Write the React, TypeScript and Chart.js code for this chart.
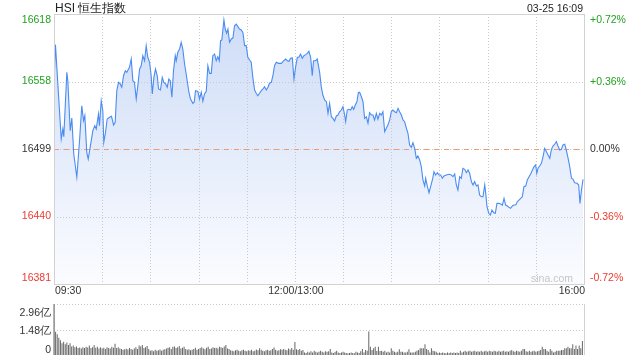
import React, { useEffect, useRef } from 'react';
import { Chart, registerables } from 'chart.js';

Chart.register(...registerables);

const FONT = '"Liberation Sans", Arial, Helvetica, sans-serif';

const titleText = 'HSI 恒生指数';
const stampText = '03-25 16:09';
const watermarkText = 'sina.com';

const prevClose = 16499.5;
const priceMin = 16381;
const priceMax = 16618;
const priceTickValues = [16618, 16558.75, 16499.5, 16440.25, 16381];
const priceTickLabels = ['16618', '16558', '16499', '16440', '16381'];
const pctTickLabels = ['+0.72%', '+0.36%', '0.00%', '-0.36%', '-0.72%'];
const tickColors = ['#22a122', '#22a122', '#333333', '#ec3a2e', '#ec3a2e'];

const totalMinutes = 330;
const timeGridMinutes = [0, 30, 60, 90, 120, 150, 180, 210, 240, 270, 300, 330];
const timeLabelMinutes = [0, 150, 330];
const timeLabelTexts = ['09:30', '12:00/13:00', '16:00'];

const volMax = 2.96;
const volTickValues = [2.96, 1.48, 0];
const volTickLabels = ['2.96亿', '1.48亿', '0'];

// minutes since 09:30 (trading minutes, lunch removed)
const minutes = [
  0.0, 0.9, 4.5, 5.5, 6.1, 8.0, 8.6, 10.1, 11.1, 12.3,
  14.2, 15.9, 17.3, 18.4, 19.2, 20.4, 21.3, 22.5, 24.2, 25.4,
  26.3, 27.7, 28.3, 29.4, 30.4, 31.0, 32.1, 33.1, 34.6, 35.8,
  37.1, 38.1, 39.1, 40.2, 41.2, 42.2, 43.3, 44.4, 45.3, 47.0,
  48.1, 49.1, 50.1, 51.2, 52.2, 53.3, 54.3, 55.3, 56.4, 57.4,
  58.4, 59.5, 60.5, 61.2, 62.2, 63.2, 64.3, 65.1, 66.3, 67.4,
  68.4, 69.5, 70.5, 71.5, 72.4, 73.4, 74.4, 75.5, 76.1, 77.1,
  78.2, 79.2, 80.2, 81.3, 82.3, 84.0, 85.0, 86.5, 87.3, 88.1,
  89.6, 90.6, 91.7, 92.7, 93.7, 94.8, 95.8, 96.9, 97.9, 98.9,
  100.0, 101.0, 102.0, 102.9, 103.7, 104.5, 105.8, 106.6, 107.5, 108.3,
  109.3, 110.4, 111.4, 112.4, 113.5, 114.5, 115.5, 116.6, 117.6, 118.7,
  119.7, 120.7, 121.8, 122.8, 123.8, 124.9, 125.9, 126.9, 128.0, 129.1,
  130.1, 131.1, 132.2, 133.2, 134.2, 135.3, 136.3, 137.3, 138.4, 139.8,
  141.5, 143.1, 144.2, 145.3, 146.3, 147.3, 148.4, 149.4, 150.4, 151.5,
  152.5, 153.5, 154.6, 155.6, 156.7, 157.7, 158.7, 159.8, 160.8, 161.6,
  162.9, 163.9, 165.4, 166.4, 167.4, 168.5, 169.6, 170.6, 171.6, 172.7,
  173.7, 174.7, 175.8, 176.8, 177.8, 178.9, 179.9, 181.0, 181.6, 182.6,
  183.6, 184.7, 185.7, 186.6, 187.6, 188.6, 189.5, 190.3, 191.4, 192.4,
  193.4, 194.5, 195.5, 196.5, 197.6, 198.6, 199.6, 200.7, 201.7, 202.8,
  203.8, 204.8, 205.9, 206.9, 207.9, 209.0, 210.0, 211.0, 212.1, 213.2,
  214.2, 215.2, 216.3, 217.3, 218.3, 219.4, 220.4, 221.4, 222.5, 223.5,
  224.6, 225.6, 226.6, 227.7, 228.7, 229.7, 230.8, 231.4, 232.5, 233.5,
  234.5, 235.6, 236.6, 237.6, 238.7, 239.7, 240.8, 241.8, 242.8, 244.3,
  245.9, 247.4, 248.4, 249.5, 250.5, 251.5, 252.6, 253.6, 254.6, 255.7,
  256.8, 257.8, 258.8, 259.9, 260.9, 261.9, 263.0, 264.0, 265.0, 266.1,
  267.1, 268.2, 268.8, 269.6, 270.7, 271.7, 272.7, 273.8, 274.8, 275.8,
  276.9, 278.1, 279.2, 280.2, 281.2, 282.3, 283.3, 284.3, 285.4, 286.4,
  287.5, 288.5, 289.5, 290.6, 291.6, 292.6, 293.7, 294.7, 295.8, 296.8,
  297.9, 298.9, 299.9, 300.6, 301.4, 302.4, 303.5, 304.5, 305.5, 306.6,
  307.6, 308.7, 309.7, 310.7, 311.8, 312.8, 313.8, 314.9, 315.9, 316.9,
  318.0, 319.0, 320.1, 321.1, 322.2, 323.2, 324.2, 325.7, 326.7, 327.5,
  328.4, 329.4,
];

const prices = [
  16556.6, 16591.1, 16508.3, 16517.1, 16510.3, 16566.8, 16559.5, 16515.6, 16526.7, 16495.1,
  16474.7, 16506.8, 16537.5, 16524.3, 16528.7, 16496.6, 16490.7, 16501.0, 16515.6, 16520.0,
  16517.1, 16530.2, 16520.0, 16541.9, 16533.1, 16505.4, 16514.2, 16525.8, 16527.3, 16528.2,
  16520.6, 16522.9, 16550.7, 16558.0, 16556.6, 16553.7, 16563.8, 16568.2, 16566.8, 16571.2,
  16578.5, 16559.5, 16558.0, 16543.4, 16555.1, 16569.7, 16572.6, 16581.4, 16577.0, 16590.2,
  16580.0, 16575.6, 16563.8, 16547.8, 16562.4, 16569.7, 16563.8, 16552.2, 16551.3, 16562.4,
  16558.0, 16556.6, 16553.7, 16560.9, 16559.5, 16544.9, 16568.2, 16581.4, 16577.0, 16584.4,
  16587.3, 16593.2, 16587.3, 16574.1, 16565.3, 16549.3, 16543.4, 16539.6, 16540.5, 16550.7,
  16550.1, 16543.4, 16549.3, 16541.4, 16547.8, 16550.1, 16572.6, 16565.9, 16565.9, 16581.4,
  16582.9, 16577.0, 16580.5, 16577.0, 16594.6, 16595.2, 16612.7, 16604.8, 16601.1, 16604.8,
  16593.2, 16596.1, 16596.9, 16607.7, 16609.2, 16606.9, 16604.8, 16604.0, 16601.9, 16590.2,
  16590.2, 16580.0, 16577.6, 16575.6, 16562.4, 16551.3, 16548.4, 16546.3, 16548.4, 16550.7,
  16552.2, 16554.2, 16551.3, 16553.7, 16557.2, 16558.0, 16563.8, 16572.6, 16575.6, 16574.7,
  16574.7, 16577.0, 16578.5, 16577.0, 16576.5, 16579.1, 16579.4, 16560.9, 16571.2, 16580.0,
  16580.0, 16582.9, 16579.1, 16581.4, 16582.3, 16583.5, 16585.3, 16580.0, 16563.8, 16577.0,
  16577.0, 16578.5, 16566.8, 16554.2, 16546.9, 16542.5, 16541.0, 16530.8, 16539.6, 16527.8,
  16526.4, 16524.1, 16528.5, 16529.3, 16532.2, 16533.7, 16536.6, 16529.3, 16523.5, 16533.7,
  16534.3, 16533.7, 16536.6, 16534.3, 16538.1, 16541.0, 16548.9, 16549.3, 16545.4, 16541.0,
  16526.4, 16527.8, 16522.1, 16531.4, 16529.3, 16529.3, 16525.0, 16530.8, 16525.6, 16530.8,
  16529.3, 16532.2, 16514.7, 16517.7, 16520.6, 16525.0, 16532.2, 16533.7, 16532.2, 16531.4,
  16535.2, 16532.2, 16529.3, 16525.0, 16523.5, 16517.7, 16513.3, 16503.0, 16501.0, 16505.0,
  16500.1, 16491.3, 16493.4, 16489.8, 16484.0, 16472.3, 16467.0, 16473.8, 16466.4, 16461.1,
  16466.4, 16472.3, 16479.6, 16476.7, 16478.7, 16476.7, 16476.7, 16473.8, 16475.8, 16476.7,
  16477.3, 16476.7, 16475.2, 16477.6, 16467.9, 16463.5, 16475.2, 16473.8, 16482.6, 16481.7,
  16478.7, 16481.1, 16478.2, 16470.8, 16467.9, 16470.8, 16467.0, 16467.9, 16459.1, 16457.6,
  16457.6, 16467.9, 16460.6, 16448.8, 16443.1, 16441.6, 16446.0, 16443.6, 16443.1, 16451.8,
  16451.8, 16451.2, 16450.3, 16456.2, 16450.3, 16449.5, 16448.3, 16447.4, 16449.5, 16450.3,
  16450.3, 16453.2, 16454.7, 16456.2, 16457.6, 16466.4, 16467.0, 16472.3, 16475.2, 16477.6,
  16481.1, 16484.0, 16485.5, 16478.2, 16482.6, 16484.6, 16486.9, 16492.7, 16500.1, 16497.1,
  16494.2, 16491.3, 16499.2, 16502.1, 16503.9, 16505.9, 16502.1, 16498.6, 16499.2, 16503.0,
  16503.6, 16498.6, 16491.3, 16484.0, 16473.8, 16472.9, 16469.9, 16469.4, 16467.9, 16451.8,
  16463.5, 16472.9,
];

// per-minute volume, 亿
const volumes = [
  2.96, 1.35, 1.2, 1.0, 0.85, 0.68, 0.77, 0.62, 0.72, 0.58,
  0.68, 0.5, 0.55, 0.45, 0.5, 0.4, 0.43, 0.38, 0.45, 0.4,
  0.48, 0.43, 0.55, 0.4, 0.45, 0.58, 0.42, 0.48, 0.38, 0.45,
  0.38, 0.42, 0.35, 0.45, 0.4, 0.38, 0.48, 0.42, 0.65, 0.4,
  0.45, 0.38, 0.35, 0.3, 0.33, 0.36, 0.32, 0.4, 0.35, 0.3,
  0.38, 0.45, 0.35, 0.55, 0.5, 0.58, 0.4, 0.45, 0.52, 0.35,
  0.25, 0.28, 0.22, 0.3, 0.25, 0.28, 0.32, 0.25, 0.3, 0.33,
  0.38, 0.42, 0.45, 0.35, 0.48, 0.5, 0.4, 0.45, 0.52, 0.38,
  0.42, 0.48, 0.35, 0.3, 0.33, 0.28, 0.3, 0.35, 0.42, 0.3,
  0.35, 0.4, 0.45, 0.38, 0.33, 0.42, 0.48, 0.35, 0.38, 0.45,
  0.4, 0.42, 0.38, 0.48, 0.45, 0.4, 0.5, 0.58, 0.38, 0.35,
  0.28, 0.25, 0.22, 0.28, 0.3, 0.25, 0.22, 0.28, 0.3, 0.25,
  0.22, 0.28, 0.25, 0.3, 0.22, 0.25, 0.32, 0.28, 0.39, 0.3,
  0.25, 0.22, 0.28, 0.3, 0.25, 0.28, 0.35, 0.43, 0.3, 0.25,
  0.28, 0.33, 0.3, 0.35, 0.3, 0.28, 0.38, 0.32, 0.4, 0.3,
  0.75, 0.33, 0.29, 0.35, 0.25, 0.29, 0.15, 0.12, 0.19, 0.15,
  0.22, 0.15, 0.25, 0.19, 0.15, 0.19, 0.25, 0.19, 0.15, 0.22,
  0.19, 0.22, 0.35, 0.15, 0.12, 0.19, 0.25, 0.15, 0.12, 0.15,
  0.19, 0.15, 0.12, 0.1, 0.12, 0.15, 0.12, 0.1, 0.19, 0.15,
  0.12, 0.22, 0.35, 0.15, 0.29, 0.25, 1.36, 0.48, 0.29, 0.39,
  0.48, 0.23, 0.48, 0.23, 0.25, 0.19, 0.25, 0.15, 0.19, 0.14,
  0.39, 0.25, 0.19, 0.14, 0.19, 0.33, 0.19, 0.19, 0.15, 0.15,
  0.19, 0.33, 0.15, 0.15, 0.15, 0.19, 0.25, 0.29, 0.39, 0.39,
  0.39, 0.62, 0.35, 0.29, 0.15, 0.39, 0.25, 0.22, 0.19, 0.12,
  0.15, 0.12, 0.15, 0.12, 0.1, 0.15, 0.12, 0.15, 0.12, 0.15,
  0.12, 0.15, 0.12, 0.25, 0.15, 0.19, 0.25, 0.19, 0.22, 0.25,
  0.19, 0.22, 0.25, 0.19, 0.22, 0.19, 0.25, 0.19, 0.22, 0.25,
  0.19, 0.25, 0.22, 0.19, 0.25, 0.22, 0.19, 0.25, 0.19, 0.22,
  0.25, 0.19, 0.22, 0.19, 0.25, 0.29, 0.22, 0.19, 0.25, 0.22,
  0.19, 0.25, 0.35, 0.35, 0.22, 0.19, 0.25, 0.19, 0.22, 0.25,
  0.19, 0.22, 0.25, 0.29, 0.48, 0.35, 0.35, 0.25, 0.19, 0.35,
  0.25, 0.15, 0.19, 0.25, 0.25, 0.25, 0.29, 0.29, 0.39, 0.39,
  0.48, 0.39, 0.39, 0.62, 0.35, 0.55, 0.35, 0.55, 0.39, 0.81,
];

const GRID = '#c9c9c9';
const BORDER = '#d2d2d2';
const TEXT = '#333333';

function hLine(ctx: CanvasRenderingContext2D, x0: number, x1: number, y: number) {
  const py = Math.round(y) + 0.5;
  ctx.moveTo(x0, py);
  ctx.lineTo(x1, py);
}
function vLine(ctx: CanvasRenderingContext2D, x: number, y0: number, y1: number) {
  const px = Math.round(x) + 0.5;
  ctx.moveTo(px, y0);
  ctx.lineTo(px, y1);
}

const mainDecor = {
  id: 'mainDecor',
  beforeDatasetDraw(chart: any) {
    const { ctx, chartArea: a, scales } = chart;
    const xs = scales.x;
    const ys = scales.y;
    ctx.save();
    ctx.lineWidth = 1;
    ctx.strokeStyle = GRID;
    ctx.setLineDash([1, 2]);
    ctx.beginPath();
    timeGridMinutes.forEach((m) => {
      if (m <= 0 || m >= totalMinutes) return;
      vLine(ctx, xs.getPixelForValue(m), a.top, a.bottom);
    });
    priceTickValues.forEach((v) => {
      if (v >= priceMax || v <= priceMin) return;
      hLine(ctx, a.left, a.right, ys.getPixelForValue(v));
    });
    ctx.stroke();
    ctx.setLineDash([5, 5]);
    ctx.strokeStyle = '#ec9c72';
    ctx.beginPath();
    hLine(ctx, a.left, a.right, ys.getPixelForValue(prevClose));
    ctx.stroke();
    ctx.restore();
  },
  afterDraw(chart: any) {
    const { ctx, chartArea: a, scales } = chart;
    const xs = scales.x;
    const ys = scales.y;
    ctx.save();
    ctx.setLineDash([]);
    ctx.lineWidth = 1;
    ctx.strokeStyle = BORDER;
    ctx.strokeRect(Math.round(a.left) + 0.5, Math.round(a.top) + 0.5, Math.round(a.right - a.left), Math.round(a.bottom - a.top));

    ctx.fillStyle = '#222222';
    ctx.textBaseline = 'alphabetic';
    ctx.textAlign = 'left';
    ctx.font = `12px ${FONT}`;
    ctx.fillText(titleText, a.left + 1, 11.5);
    ctx.textAlign = 'right';
    ctx.font = `10.5px ${FONT}`;
    ctx.fillText(stampText, a.right - 1, 11.5);

    ctx.textBaseline = 'middle';
    ctx.font = `10.5px ${FONT}`;
    priceTickValues.forEach((v, i) => {
      let py = ys.getPixelForValue(v);
      py = Math.min(Math.max(py, a.top + 6), a.bottom - 6);
      ctx.fillStyle = tickColors[i];
      ctx.textAlign = 'right';
      ctx.fillText(priceTickLabels[i], a.left - 3, py);
      ctx.textAlign = 'left';
      ctx.fillText(pctTickLabels[i], a.right + 6, py + 0.5);
    });

    ctx.fillStyle = TEXT;
    ctx.textBaseline = 'alphabetic';
    timeLabelMinutes.forEach((m, i) => {
      const px = xs.getPixelForValue(m);
      ctx.textAlign = i === 0 ? 'left' : i === timeLabelMinutes.length - 1 ? 'right' : 'center';
      ctx.fillText(timeLabelTexts[i], px + 1, 294);
    });

    ctx.fillStyle = '#c6c6c6';
    ctx.textAlign = 'right';
    ctx.textBaseline = 'middle';
    ctx.font = `10.5px ${FONT}`;
    ctx.fillText(watermarkText, a.right - 11, 279);
    ctx.restore();
  },
};

const volDecor = {
  id: 'volDecor',
  beforeDatasetsDraw(chart: any) {
    const { ctx, chartArea: a, scales } = chart;
    const ys = scales.y;
    ctx.save();
    ctx.lineWidth = 1;
    ctx.strokeStyle = GRID;
    ctx.setLineDash([1, 2]);
    ctx.beginPath();
    volTickValues.forEach((v) => {
      if (v <= 0) return;
      hLine(ctx, a.left, a.right, ys.getPixelForValue(v));
    });
    ctx.stroke();
    ctx.setLineDash([]);
    ctx.strokeStyle = BORDER;
    ctx.beginPath();
    vLine(ctx, a.left, a.top, a.bottom);
    vLine(ctx, a.right, a.top, a.bottom);
    ctx.stroke();
    ctx.restore();
  },
  afterDraw(chart: any) {
    const { ctx, chartArea: a, scales } = chart;
    const ys = scales.y;
    ctx.save();
    ctx.fillStyle = TEXT;
    ctx.font = `10.5px ${FONT}`;
    ctx.textAlign = 'right';
    ctx.textBaseline = 'middle';
    volTickValues.forEach((v, i) => {
      let py = ys.getPixelForValue(v);
      if (i === 0) py = a.top + 9;
      else if (i === volTickValues.length - 1) py = a.bottom - 5;
      else py = py + 2;
      ctx.fillText(volTickLabels[i], a.left - 3, py);
    });
    ctx.restore();
  },
};

export default function App() {
  const mainRef = useRef<HTMLCanvasElement>(null);
  const volRef = useRef<HTMLCanvasElement>(null);

  useEffect(() => {
    const mainChart = new Chart(mainRef.current as HTMLCanvasElement, {
      type: 'line',
      data: {
        datasets: [
          {
            data: minutes.map((m, i) => ({ x: m, y: prices[i] })),
            borderColor: '#4b8cf2',
            borderWidth: 1.1,
            pointRadius: 0,
            tension: 0,
            fill: 'start',
            backgroundColor: (c: any) => {
              const chart = c.chart;
              const area = chart.chartArea;
              if (!area) return 'rgba(215,228,249,0.8)';
              const g = chart.ctx.createLinearGradient(0, area.top, 0, area.bottom);
              g.addColorStop(0, '#cddcf7');
              g.addColorStop(1, '#fbfcff');
              return g;
            },
          },
        ],
      },
      options: {
        responsive: false,
        animation: false,
        events: [],
        layout: { padding: { left: 54, right: 56, top: 14, bottom: 14 } },
        scales: {
          x: { type: 'linear', display: false, min: 0, max: totalMinutes },
          y: { type: 'linear', display: false, min: priceMin, max: priceMax },
        },
        plugins: { legend: { display: false }, tooltip: { enabled: false } },
      },
      plugins: [mainDecor],
    } as any);

    const volChart = new Chart(volRef.current as HTMLCanvasElement, {
      type: 'bar',
      data: {
        datasets: [
          {
            data: volumes.map((v, i) => ({ x: i, y: v })),
            backgroundColor: '#666666',
            borderWidth: 0,
            barThickness: 1,
            inflateAmount: 0,
            clip: false,
          },
        ],
      },
      options: {
        responsive: false,
        animation: false,
        events: [],
        layout: { padding: { left: 54, right: 56, top: 6, bottom: 5 } },
        scales: {
          x: { type: 'linear', display: false, min: 0, max: totalMinutes, offset: false },
          y: { type: 'linear', display: false, min: 0, max: volMax },
        },
        plugins: { legend: { display: false }, tooltip: { enabled: false } },
      },
      plugins: [volDecor],
    } as any);

    return () => {
      mainChart.destroy();
      volChart.destroy();
    };
  }, []);

  return (
    <div style={{ position: 'fixed', left: 0, top: 0, width: 640, height: 360, background: '#ffffff' }}>
      <canvas ref={mainRef} width={640} height={298} style={{ position: 'absolute', left: 0, top: 0, width: 640, height: 298 }} />
      <canvas ref={volRef} width={640} height={62} style={{ position: 'absolute', left: 0, top: 298, width: 640, height: 62 }} />
    </div>
  );
}
